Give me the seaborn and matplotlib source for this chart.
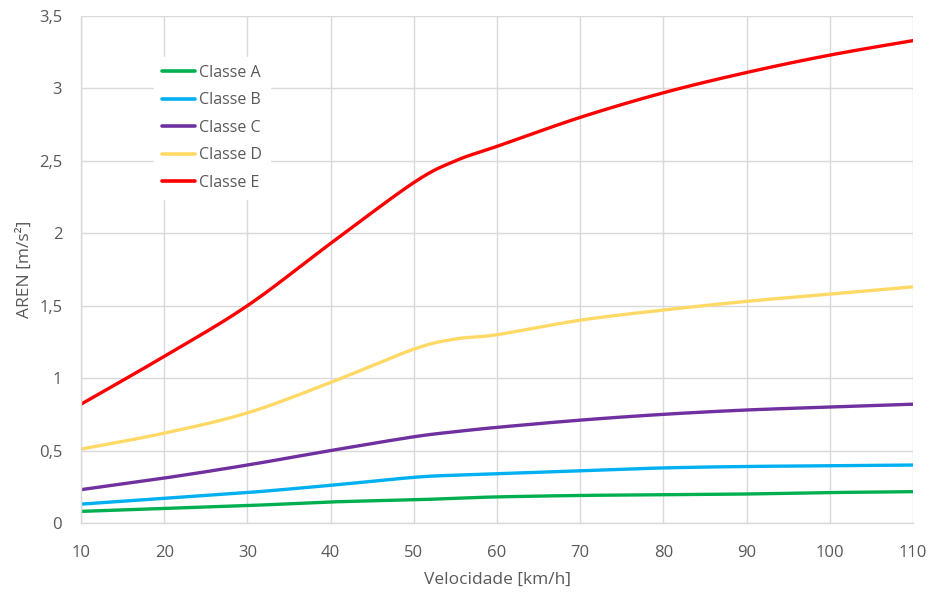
import numpy as np
import pandas as pd
import matplotlib
matplotlib.use("Agg")
import matplotlib.pyplot as plt
import seaborn as sns

velocidade = [10, 20, 30, 40, 50, 55, 60, 70, 80, 90, 100, 110]
classe_a = [0.08, 0.10, 0.12, 0.145, 0.16, 0.17, 0.18, 0.19, 0.195, 0.20, 0.21, 0.216]
classe_b = [0.13, 0.17, 0.21, 0.26, 0.315, 0.33, 0.34, 0.36, 0.38, 0.39, 0.395, 0.40]
classe_c = [0.23, 0.31, 0.40, 0.50, 0.595, 0.63, 0.66, 0.71, 0.75, 0.78, 0.80, 0.82]
classe_d = [0.51, 0.62, 0.76, 0.97, 1.20, 1.27, 1.30, 1.40, 1.47, 1.53, 1.58, 1.63]
classe_e = [0.82, 1.15, 1.50, 1.93, 2.35, 2.50, 2.60, 2.80, 2.97, 3.11, 3.23, 3.33]

series = {"Classe A": classe_a, "Classe B": classe_b, "Classe C": classe_c,
          "Classe D": classe_d, "Classe E": classe_e}
colors = {"Classe A": "#00B050", "Classe B": "#00B0F0", "Classe C": "#7030A0",
          "Classe D": "#FFD966", "Classe E": "#FF0000"}

y_ticks = [0, 0.5, 1, 1.5, 2, 2.5, 3, 3.5]
y_tick_labels = ["0", "0,5", "1", "1,5", "2", "2,5", "3", "3,5"]
x_ticks = [10, 20, 30, 40, 50, 60, 70, 80, 90, 100, 110]


def smooth(xs, ys, n=30):
    """Excel-style smoothed line (cubic Bezier, Catmull-Rom control points)."""
    P = np.column_stack([xs, ys]).astype(float)
    m = len(P)
    out = []
    for i in range(m - 1):
        p0 = P[i - 1] if i > 0 else P[i]
        p1 = P[i]
        p2 = P[i + 1]
        p3 = P[i + 2] if i + 2 < m else P[i + 1]
        c1 = p1 + (p2 - p0) / 6.0
        c2 = p2 - (p3 - p1) / 6.0
        t = np.linspace(0, 1, n, endpoint=(i == m - 2))[:, None]
        b = ((1 - t) ** 3) * p1 + 3 * ((1 - t) ** 2) * t * c1 + 3 * (1 - t) * t ** 2 * c2 + t ** 3 * p2
        out.append(b)
    return np.vstack(out)


frames = []
for name, vals in series.items():
    pts = smooth(velocidade, vals)
    frames.append(pd.DataFrame({"x": pts[:, 0], "y": pts[:, 1], "classe": name}))
df = pd.concat(frames, ignore_index=True)

sns.set_theme(style="white")
plt.rcParams['font.family'] = ['Open Sans', 'DejaVu Sans']

fig = plt.figure(figsize=(9.31, 5.92), dpi=100)
ax = fig.add_axes([0.087, 0.1166, 0.8937, 0.8564])

sns.lineplot(data=df, x="x", y="y", hue="classe", palette=colors, sort=False,
             estimator=None, units="classe", linewidth=2.4, ax=ax, legend=True)

ax.set_xlim(10, 110)
ax.set_ylim(0, 3.5)
ax.set_xticks(x_ticks)
ax.set_xticklabels([str(v) for v in x_ticks])
ax.set_yticks(y_ticks)
ax.set_yticklabels(y_tick_labels)
ax.grid(True, color="#d9d9d9", linewidth=1.0)
ax.set_axisbelow(True)
for s in ax.spines.values():
    s.set_color("#d9d9d9")
    s.set_linewidth(1.0)
ax.spines["top"].set_visible(False)
ax.spines["right"].set_visible(False)
ax.tick_params(axis="both", colors="#595959", labelsize=12, length=0)
ax.tick_params(axis="x", pad=15.5)
ax.tick_params(axis="y", pad=13.5)
ax.set_xlabel("Velocidade [km/h]", color="#595959", fontsize=12.5, labelpad=8)
ax.set_ylabel("AREN [m/s²]", color="#595959", fontsize=12.5, labelpad=4)

handles, labels = ax.get_legend_handles_labels()
leg = ax.legend(handles, labels, loc="upper left", bbox_to_anchor=(0.078, 0.935),
                frameon=True, fontsize=11.5, handlelength=2.05, handletextpad=0.3,
                labelspacing=0.72, borderpad=0.5)
leg.get_frame().set_facecolor("white")
leg.get_frame().set_edgecolor("white")
leg.get_frame().set_alpha(1)
for t in leg.get_texts():
    t.set_color("#595959")
for l in leg.get_lines():
    l.set_linewidth(2.6)

fig.savefig("out.png", dpi=100, facecolor="white")
